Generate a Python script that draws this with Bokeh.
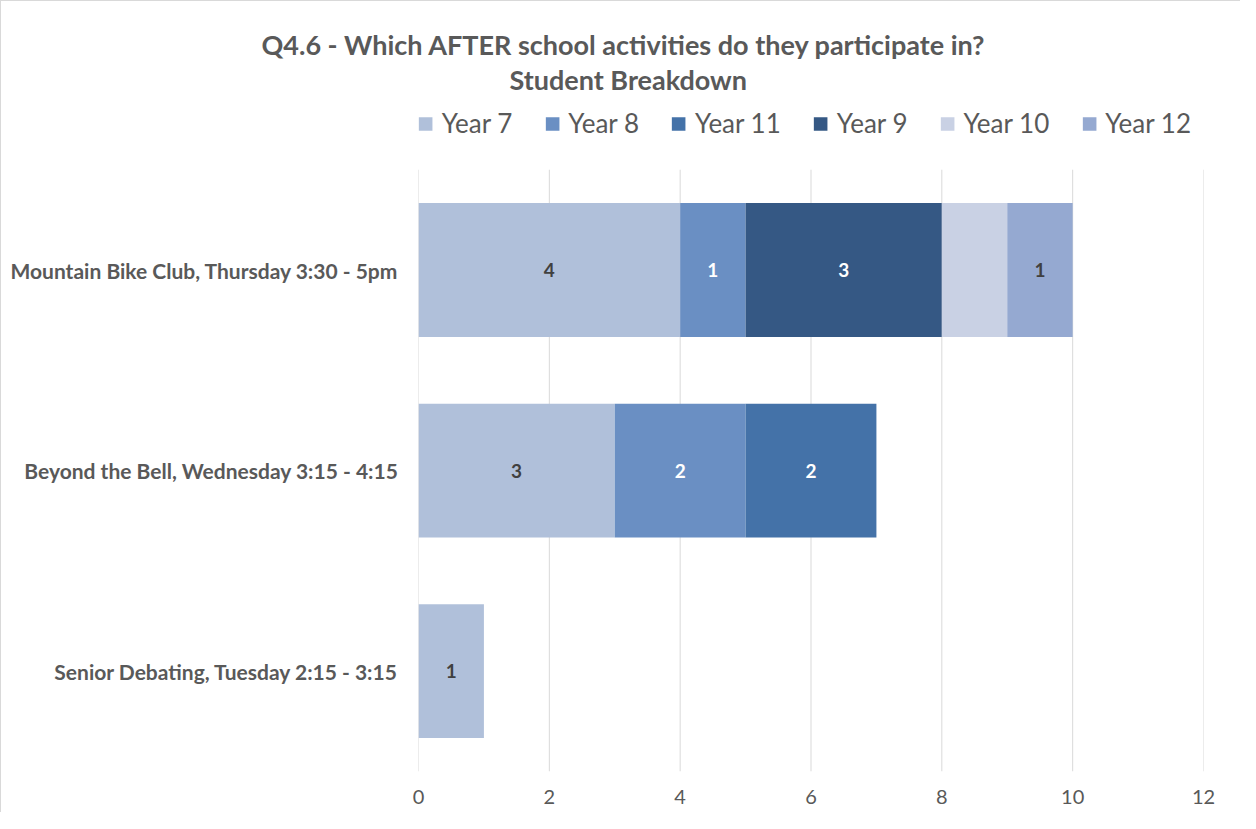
from bokeh.plotting import figure
from bokeh.models import Legend, LegendItem, Title, FixedTicker, Range1d, ColumnDataSource
from bokeh.core.properties import value
from bokeh.embed import file_html
from bokeh.resources import INLINE

activities = [
    "Senior Debating, Tuesday 2:15 - 3:15",
    "Beyond the Bell, Wednesday 3:15 - 4:15",
    "Mountain Bike Club, Thursday 3:30 - 5pm",
]
series = ["Year 7", "Year 8", "Year 11", "Year 9", "Year 10", "Year 12"]
year7 = [1, 3, 4]
year8 = [0, 2, 1]
year11 = [0, 2, 0]
year9 = [0, 0, 3]
year10 = [0, 0, 1]
year12 = [0, 0, 1]
x_ticks = [0, 2, 4, 6, 8, 10, 12]
title_line1 = "Q4.6 - Which AFTER school activities do they participate in?"
title_line2 = "Student Breakdown"

colors = ["#B0C0DA", "#6A8FC3", "#4472A8", "#355884", "#C9D1E4", "#95A9D1"]
label_colors = ["#404040", "#FFFFFF", "#FFFFFF", "#FFFFFF", None, "#404040"]
TXT = "#595959"
GRID = "#D9D9D9"
FONT = "Lato"

y_pos = list(range(1, len(activities) + 1))
data = {"y": y_pos, "Year 7": year7, "Year 8": year8, "Year 11": year11,
        "Year 9": year9, "Year 10": year10, "Year 12": year12}
source = ColumnDataSource(data)

p = figure(width=1240, height=812, x_range=Range1d(0, x_ticks[-1]),
           y_range=Range1d(y_pos[0] - 0.5, y_pos[-1] + 0.5 + 0.37),
           output_backend="svg", toolbar_location=None,
           min_border_left=417, min_border_right=38, min_border_bottom=42, min_border_top=94)
p.styles = {"border-left": "1px solid #D9D9D9", "border-top": "1px solid #D9D9D9"}
p.outline_line_color = None
p.xgrid.grid_line_color = None
p.ygrid.grid_line_color = None

# vertical gridlines spanning the category bands only
p.segment(x0=x_ticks, x1=x_ticks, y0=[y_pos[0] - 0.5] * len(x_ticks),
          y1=[y_pos[-1] + 0.5] * len(x_ticks), line_color=GRID, line_width=1)

renderers = p.hbar_stack(series, y="y", height=0.667, color=colors, source=source, line_width=0)

# segment labels
left = [0] * len(activities)
for s, lc in zip(series, label_colors):
    vals = data[s]
    xs, ys, ts = [], [], []
    for i, v in enumerate(vals):
        if v > 0 and lc is not None:
            xs.append(left[i] + v / 2)
            ys.append(y_pos[i])
            ts.append(str(v))
    left = [a + b for a, b in zip(left, vals)]
    if xs:
        p.text(x=xs, y=ys, text=ts, text_align="center", text_baseline="middle",
               text_font=value(FONT), text_font_style="bold", text_font_size="19px",
               text_color=lc)

p.xaxis.ticker = FixedTicker(ticks=x_ticks)
p.xaxis.axis_line_color = None
p.xaxis.major_tick_line_color = None
p.xaxis.minor_tick_line_color = None
p.xaxis.major_label_standoff = 12
p.xaxis.major_label_text_font = FONT
p.xaxis.major_label_text_font_size = "20px"
p.xaxis.major_label_text_color = TXT

p.yaxis.ticker = FixedTicker(ticks=y_pos)
p.yaxis.major_label_overrides = dict(zip(y_pos, activities))
p.yaxis.axis_line_color = None
p.yaxis.major_tick_line_color = None
p.yaxis.minor_tick_line_color = None
p.yaxis.major_label_standoff = 14
p.yaxis.major_label_text_font = FONT
p.yaxis.major_label_text_font_style = "bold"
p.yaxis.major_label_text_font_size = "21px"
p.yaxis.major_label_text_color = TXT

legend = Legend(items=[LegendItem(label=s, renderers=[r]) for s, r in zip(series, renderers)],
                orientation="horizontal", location="top_right",
                label_text_font=FONT, label_text_font_size="26px", label_text_color=TXT,
                glyph_width=17, glyph_height=17, label_standoff=8, spacing=31,
                padding=0, margin=12, border_line_color=None, background_fill_alpha=0)
p.add_layout(legend)

p.title.text = title_line1
p.title.align = "left"
p.title.offset = -157
p.title.text_font = FONT
p.title.text_font_style = "bold"
p.title.text_font_size = "27px"
p.title.text_color = TXT
p.title.standoff = 0

t2 = Title(text=title_line2, align="left", offset=91, text_font=FONT, text_font_style="bold",
           text_font_size="27px", text_color=TXT, standoff=0)
p.add_layout(t2, "above")

open("out.html", "w").write(file_html(p, INLINE))
